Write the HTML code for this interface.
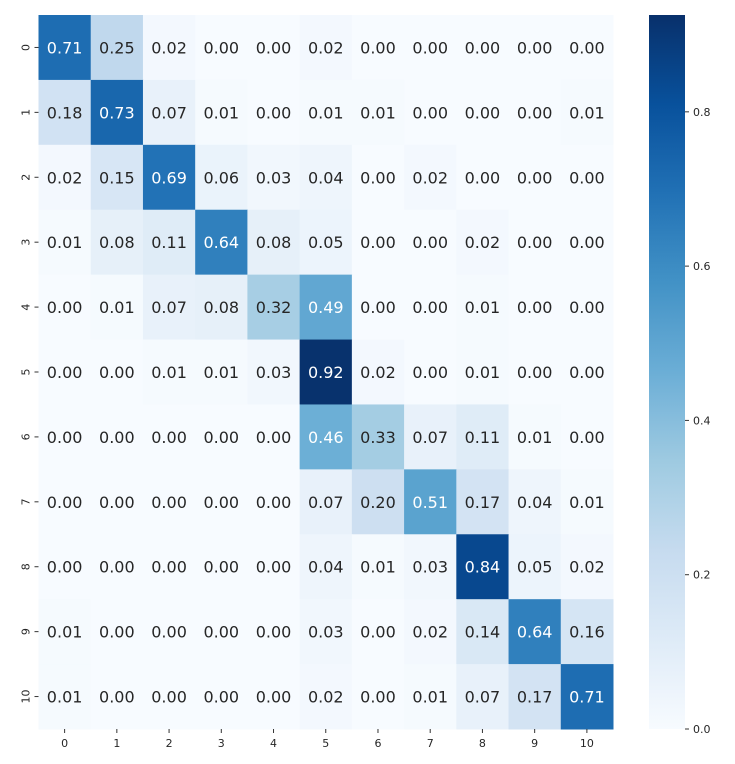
<!DOCTYPE html>
<html><head><meta charset="utf-8"><style>
html,body{margin:0;padding:0;background:#fff;}
svg{display:block;font-family:"DejaVu Sans","Liberation Sans",sans-serif;}
</style></head><body>
<svg id="chart" width="735" height="764" xmlns="http://www.w3.org/2000/svg">
<defs><linearGradient id="cg" x1="0" y1="1" x2="0" y2="0"></linearGradient></defs>
<g id="cells"></g>
<g id="xt"></g>
<g id="yt"></g>
<g id="cb"></g>
</svg>
<script>
const labels = ["0","1","2","3","4","5","6","7","8","9","10"];
const row0 = [0.71,0.25,0.02,0.00,0.00,0.02,0.00,0.00,0.00,0.00,0.00];
const row1 = [0.18,0.73,0.07,0.01,0.00,0.01,0.01,0.00,0.00,0.00,0.01];
const row2 = [0.02,0.15,0.69,0.06,0.03,0.04,0.00,0.02,0.00,0.00,0.00];
const row3 = [0.01,0.08,0.11,0.64,0.08,0.05,0.00,0.00,0.02,0.00,0.00];
const row4 = [0.00,0.01,0.07,0.08,0.32,0.49,0.00,0.00,0.01,0.00,0.00];
const row5 = [0.00,0.00,0.01,0.01,0.03,0.92,0.02,0.00,0.01,0.00,0.00];
const row6 = [0.00,0.00,0.00,0.00,0.00,0.46,0.33,0.07,0.11,0.01,0.00];
const row7 = [0.00,0.00,0.00,0.00,0.00,0.07,0.20,0.51,0.17,0.04,0.01];
const row8 = [0.00,0.00,0.00,0.00,0.00,0.04,0.01,0.03,0.84,0.05,0.02];
const row9 = [0.01,0.00,0.00,0.00,0.00,0.03,0.00,0.02,0.14,0.64,0.16];
const row10 = [0.01,0.00,0.00,0.00,0.00,0.02,0.00,0.01,0.07,0.17,0.71];
const cbTicks = [0.0,0.2,0.4,0.6,0.8];
const matrix = [row0,row1,row2,row3,row4,row5,row6,row7,row8,row9,row10];

const NS="http://www.w3.org/2000/svg";
const X0=38.5,X1=613,Y0=15,Y1=729;
const n=labels.length, cw=(X1-X0)/n, ch=(Y1-Y0)/n;
let vmax=0; matrix.forEach(r=>r.forEach(v=>{if(v>vmax)vmax=v;}));
vmax=Math.max(vmax,0.001)*1.006;
const blues=["#f7fbff","#deebf7","#c6dbef","#9ecae1","#6baed6","#4292c6","#2171b5","#08519c","#08306b"].map(h=>[1,3,5].map(i=>parseInt(h.substr(i,2),16)));
function cmap(t){t=Math.max(0,Math.min(1,t));const p=t*8,i=Math.min(7,Math.floor(p)),f=p-i;
 return blues[i].map((c,k)=>c+(blues[i+1][k]-c)*f);}
function rgb(c){return "rgb("+c.map(Math.round).join(",")+")";}
function lum(c){const l=c.map(v=>{v/=255;return v<=0.03928?v/12.92:Math.pow((v+0.055)/1.055,2.4);});return 0.2126*l[0]+0.7152*l[1]+0.0722*l[2];}
function xs(j){return X0+j*cw;}
function ys(i){return Y0+i*ch;}
function mk(tag,attrs,parent){const e=document.createElementNS(NS,tag);for(const k in attrs)e.setAttribute(k,attrs[k]);parent.appendChild(e);return e;}
const cells=document.getElementById('cells');
matrix.forEach((r,i)=>r.forEach((v,j)=>{
 const c=cmap(v/vmax);
 const rect=mk('rect',{x:xs(j),y:ys(i),width:cw+0.5,height:ch+0.5,fill:rgb(c)},cells);
 
 
 const t=mk('text',{x:xs(j)+cw/2,y:ys(i)+ch/2+6,'text-anchor':'middle','font-size':'16',fill:lum(c)>0.408?'#262626':'#ffffff'},cells);
 t.textContent=v.toFixed(2);
 
 
}));
const xt=document.getElementById('xt'),yt=document.getElementById('yt');
labels.forEach((l,j)=>{
 const x=xs(j)+cw/2;
 mk('line',{x1:x,x2:x,y1:Y1,y2:Y1+4,stroke:'#333','stroke-width':1},xt);
 const t=mk('text',{x:x,y:Y1+18,'text-anchor':'middle','font-size':'11',fill:'#262626'},xt);
 t.textContent=l;
 
 
 const y=ys(j)+ch/2;
 mk('line',{x1:X0-4,x2:X0,y1:y,y2:y,stroke:'#333','stroke-width':1},yt);
 const u=mk('text',{x:0,y:0,'text-anchor':'middle','font-size':'11',fill:'#262626',transform:'translate('+(X0-9)+','+y+') rotate(-90)'},yt);
 u.textContent=l;
 
 
});
// colorbar
const CX0=649,CX1=685;
const g=document.getElementById('cg');
for(let k=0;k<=16;k++){mk('stop',{offset:(k/16),'stop-color':rgb(cmap(k/16))},g);}
const cb=document.getElementById('cb');
const bar=mk('rect',{x:CX0,y:Y0,width:CX1-CX0,height:Y1-Y0,fill:'url(#cg)'},cb);


function cy(v){return Y1-(v/vmax)*(Y1-Y0);}
cbTicks.forEach(v=>{
 const y=cy(v);
 mk('line',{x1:CX1,x2:CX1+4,y1:y,y2:y,stroke:'#333','stroke-width':1},cb);
 const t=mk('text',{x:CX1+8,y:y+4,'font-size':'11',fill:'#262626'},cb);
 t.textContent=v.toFixed(1);
 
 
});
</script>
</body></html>
